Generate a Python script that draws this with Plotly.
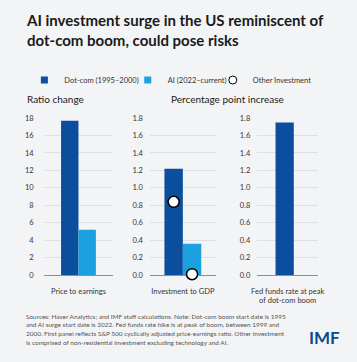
import plotly.graph_objects as go

# ---------------- data ----------------
categories = ["Price to earnings", "Investment to GDP", "Fed funds rate at peak<br>of dot-com boom"]
dotcom_values = [17.7, 1.22, 1.75]
ai_values = [5.2, 0.36, None]
other_investment = [0.84, 0.01]  # dot-com, AI (Investment to GDP panel)
y_ticks_ratio = [0, 2, 4, 6, 8, 10, 12, 14, 16, 18]
y_ticks_pp = [0, 0.2, 0.4, 0.6, 0.8, 1.0, 1.2, 1.4, 1.6, 1.8]
y_tick_labels_pp = ["0.0", "0.2", "0.4", "0.6", "0.8", "1.0", "1.2", "1.4", "1.6", "1.8"]
series_names = ["Dot-com (1995–2000)", "AI (2022–current)", "Other Investment"]
footnote_lines = [
    "Sources: Haver Analytics; and IMF staff calculations. Note: Dot-com boom start date is 1995",
    "and AI surge start date is 2022. Fed funds rate hike is at peak of boom, between 1999 and",
    "2000. First panel reflects S&P 500 cyclically adjusted price-earnings ratio. Other investment",
    "is comprised of non-residential investment excluding technology and AI.",
]

# ---------------- style ----------------
W, H = 357, 362
BG = "#F3F4F6"
DARK = "#0B4E9E"
LIGHT = "#1BA1E0"
FONT = "Lato"
TXT = "#333333"

def px_x(p):
    return p / W

def px_y(p):
    return 1 - p / H

fig = go.Figure()

panels = [
    dict(xd=[px_x(39), px_x(111)], w=0.25, off_d=-0.25, off_a=0.0),
    dict(xd=[px_x(149), px_x(217)], w=0.28, off_d=-0.28, off_a=0.0),
    dict(xd=[px_x(260), px_x(323)], w=0.30, off_d=-0.20, off_a=0.0),
]
ydom = [px_y(278), px_y(117)]

for i, (cat, dv, av) in enumerate(zip(categories, dotcom_values, ai_values)):
    ax = "" if i == 0 else str(i + 1)
    p = panels[i]
    fig.add_trace(go.Bar(
        x=[0], y=[dv], width=[p["w"]], offset=p["off_d"],
        marker=dict(color=DARK, line=dict(width=0)),
        name=series_names[0], showlegend=False,
        xaxis="x" + ax, yaxis="y" + ax,
    ))
    if av is not None:
        fig.add_trace(go.Bar(
            x=[0], y=[av], width=[p["w"]], offset=p["off_a"],
            marker=dict(color=LIGHT, line=dict(width=0)),
            name=series_names[1], showlegend=False,
            xaxis="x" + ax, yaxis="y" + ax,
        ))

p2 = panels[1]
dot_x = [p2["off_d"] + p2["w"] / 2, p2["off_a"] + p2["w"] / 2]
fig.add_trace(go.Scatter(
    x=dot_x, y=other_investment, mode="markers",
    marker=dict(size=11, color="white", line=dict(color="black", width=1.5)),
    name=series_names[2], showlegend=False, xaxis="x2", yaxis="y2", cliponaxis=False,
))

legend_syms = [
    dict(symbol="square", size=7, color=DARK, line=dict(width=0)),
    dict(symbol="square", size=7, color=LIGHT, line=dict(width=0)),
    dict(symbol="circle", size=8, color="white", line=dict(color="black", width=1)),
]
legend_ids = ["legend", "legend2", "legend3"]
for name, sym, lid in zip(series_names, legend_syms, legend_ids):
    fig.add_trace(go.Scatter(
        x=[None], y=[None], mode="markers", marker=sym, name=name,
        showlegend=True, legend=lid, xaxis="x", yaxis="y",
    ))

legend_x_px = [19, 126, 214]
layout = dict(
    width=W, height=H,
    margin=dict(l=0, r=0, t=0, b=0),
    paper_bgcolor=BG, plot_bgcolor=BG,
    barmode="overlay",
    font=dict(family=FONT, color=TXT, size=8),
    showlegend=True,
)
for lid, lx in zip(legend_ids, legend_x_px):
    layout[lid] = dict(orientation="h", x=px_x(lx), y=px_y(78), xanchor="left", yanchor="middle",
                       font=dict(size=7.5, color=TXT), bgcolor="rgba(0,0,0,0)",
                       itemwidth=30, itemclick=False, itemdoubleclick=False)

for i in range(3):
    ax = "" if i == 0 else str(i + 1)
    p = panels[i]
    layout["xaxis" + ax] = dict(
        domain=p["xd"], anchor="y" + ax, range=[-0.5, 0.5],
        tickvals=[0], ticktext=[categories[i]], ticks="", showgrid=False,
        zeroline=False, showline=False, tickfont=dict(size=7.5, color=TXT),
        ticklabelstandoff=10, fixedrange=True,
    )
    if i == 0:
        yt, ytl, yr = y_ticks_ratio, [str(v) for v in y_ticks_ratio], [0, 18]
    else:
        yt, ytl, yr = y_ticks_pp, y_tick_labels_pp, [0, 1.8]
    layout["yaxis" + ax] = dict(
        domain=ydom, anchor="x" + ax, range=yr, tickvals=yt, ticktext=ytl,
        showgrid=True, gridcolor="#DDE0E4", gridwidth=1, zeroline=True,
        zerolinecolor="#8A8F96", zerolinewidth=1.2, ticks="",
        tickfont=dict(size=7.5, color=TXT), ticklabelstandoff=6 if i else 9,
        fixedrange=True,
    )

fig.update_layout(**layout)

fig.add_annotation(
    text="<b>AI investment surge in the US reminiscent of<br>dot-com boom, could pose risks</b>",
    x=px_x(19), y=px_y(5), xref="paper", yref="paper", xanchor="left", yanchor="top",
    align="left", showarrow=False, font=dict(family=FONT, size=15, color="#1A1A1A"),
)
fig.add_annotation(text="Ratio change", x=px_x(20), y=px_y(97), xref="paper", yref="paper",
                   xanchor="left", yanchor="middle", showarrow=False,
                   font=dict(family=FONT, size=10, color="#1A1A1A"))
fig.add_annotation(text="Percentage point increase", x=px_x(169), y=px_y(97), xref="paper", yref="paper",
                   xanchor="left", yanchor="middle", showarrow=False,
                   font=dict(family=FONT, size=10, color="#1A1A1A"))
for k, line in enumerate(footnote_lines):
    fig.add_annotation(
        text=line, x=px_x(19), y=px_y(320 + 9 * k), xref="paper", yref="paper",
        xanchor="left", yanchor="middle", showarrow=False,
        font=dict(family=FONT, size=6.45, color="#555555"),
    )
fig.add_annotation(text="<b>IMF</b>", x=px_x(348), y=px_y(342), xref="paper", yref="paper",
                   xanchor="right", yanchor="middle", showarrow=False,
                   font=dict(family=FONT, size=17, color="#0B4A8F"))

fig.write_html(
    "out.html",
    config={"displayModeBar": False},
    post_script="document.body.style.margin='0';document.body.style.padding='0';document.body.style.overflow='hidden';",
)
